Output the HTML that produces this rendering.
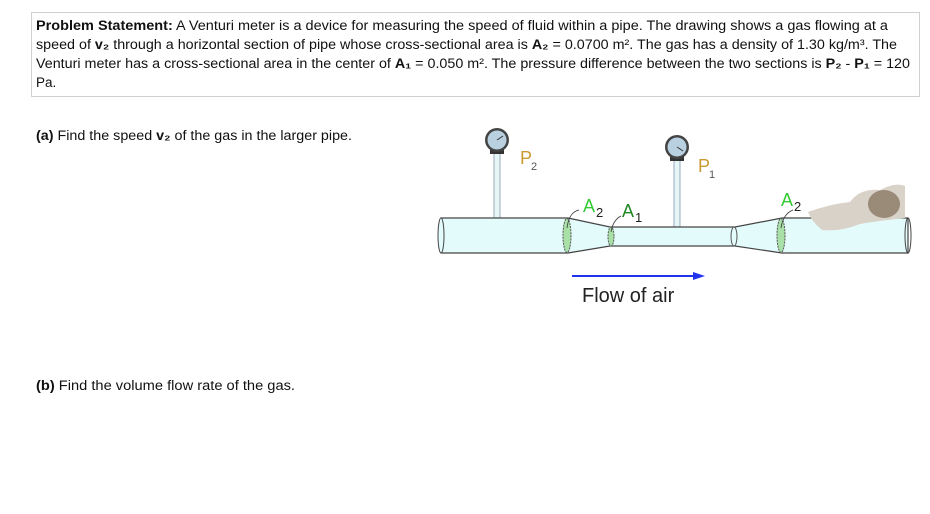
<!DOCTYPE html>
<html><head><style>
body{margin:0;background:#fff;width:930px;height:514px;overflow:hidden}
svg{display:block}
text{font-family:"Liberation Sans",sans-serif}
</style></head><body>
<svg width="930" height="514" viewBox="0 0 930 514">
<rect x="31.5" y="12.5" width="888" height="84" fill="#fff" stroke="#d0d0d0"/>
<g font-size="13.5" fill="#111">
<text x="36" y="30" textLength="852" lengthAdjust="spacingAndGlyphs"><tspan font-weight="bold">Problem Statement:</tspan>  A Venturi meter is a device for measuring the speed of fluid within a pipe.  The drawing shows a gas flowing at a</text>
<text x="36" y="49" textLength="861" lengthAdjust="spacingAndGlyphs">speed of <tspan font-weight="bold">v₂</tspan> through a horizontal section of pipe whose cross-sectional area is <tspan font-weight="bold">A₂</tspan> = 0.0700 m².  The gas has a density of 1.30 kg/m³.  The</text>
<text x="36" y="68" textLength="874" lengthAdjust="spacingAndGlyphs">Venturi meter has a cross-sectional area in the center of <tspan font-weight="bold">A₁</tspan> = 0.050 m².  The pressure difference between the two sections is <tspan font-weight="bold">P₂</tspan> - <tspan font-weight="bold">P₁</tspan> = 120</text>
<text x="36" y="87">Pa.</text>
<text x="36" y="140" textLength="316" lengthAdjust="spacingAndGlyphs"><tspan font-weight="bold">(a)</tspan>  Find the speed <tspan font-weight="bold">v₂</tspan> of the gas in the larger pipe.</text>
<text x="36" y="390" textLength="259" lengthAdjust="spacingAndGlyphs"><tspan font-weight="bold">(b)</tspan>  Find the volume flow rate of the gas.</text>
</g>
<rect x="494" y="150" width="6" height="70" fill="#e6f6f6" stroke="#9ab" stroke-width="1"/>
<rect x="674" y="157" width="6" height="72" fill="#e6f6f6" stroke="#9ab" stroke-width="1"/>
<path d="M441 218 L568 218 L610 227 L735 227 L782 218 L908 218 L908 253 L782 253 L735 246 L610 246 L568 253 L441 253 Z" fill="#e4fbfb" stroke="#444" stroke-width="1.2"/>
<ellipse cx="441" cy="235.5" rx="3" ry="17.5" fill="#e4fbfb" stroke="#444"/>
<ellipse cx="908" cy="235.5" rx="3" ry="17.5" fill="none" stroke="#444"/>
<ellipse cx="567" cy="235.5" rx="4" ry="17" fill="#a8e0a8" stroke="#555" stroke-dasharray="2 1"/>
<ellipse cx="611" cy="236.5" rx="3" ry="9.5" fill="#a8e0a8" stroke="#555" stroke-dasharray="2 1"/>
<ellipse cx="734" cy="236.5" rx="3" ry="9.5" fill="none" stroke="#555"/>
<ellipse cx="781" cy="235.5" rx="4" ry="17" fill="#a8e0a8" stroke="#555" stroke-dasharray="2 1"/>
<path d="M567 228 q2 -16 12 -18 M611 232 q2 -12 10 -16 M781 228 q2 -14 12 -18" fill="none" stroke="#333" stroke-width="0.8"/>
<rect x="490" y="148" width="14" height="6" fill="#333"/>
<circle cx="497" cy="140" r="12" fill="#444"/><circle cx="497" cy="140" r="9.5" fill="#b8d0e0"/>
<line x1="497" y1="140" x2="503" y2="136" stroke="#333"/>
<rect x="670" y="155" width="14" height="6" fill="#333"/>
<circle cx="677" cy="147" r="12" fill="#444"/><circle cx="677" cy="147" r="9.5" fill="#b8d0e0"/>
<line x1="677" y1="147" x2="683" y2="151" stroke="#333"/>
<text x="520" y="164" font-size="18" fill="#c89a30">P</text><text x="531" y="170" font-size="11" fill="#555">2</text>
<text x="698" y="172" font-size="18" fill="#c89a30">P</text><text x="709" y="178" font-size="11" fill="#555">1</text>
<text x="583" y="212" font-size="18" fill="#33cc33">A</text><text x="596" y="217" font-size="13" fill="#222">2</text>
<text x="622" y="217" font-size="18" fill="#228822">A</text><text x="635" y="222" font-size="13" fill="#222">1</text>
<text x="781" y="206" font-size="18" fill="#33cc33">A</text><text x="794" y="211" font-size="13" fill="#222">2</text>
<path d="M808 212 Q830 204 850 202 Q860 188 880 190 Q895 182 905 186 L905 218 Q870 222 860 224 Q840 232 822 230 Q812 222 808 212Z" fill="#d8d2c8"/>
<ellipse cx="884" cy="204" rx="16" ry="14" fill="#9a8a78"/>
<line x1="572" y1="276" x2="697" y2="276" stroke="#2233ee" stroke-width="2"/>
<path d="M705 276 L693 272 L693 280 Z" fill="#2233ee"/>
<text x="582" y="302" font-size="20" fill="#222">Flow of air</text>
</svg>
</body></html>
